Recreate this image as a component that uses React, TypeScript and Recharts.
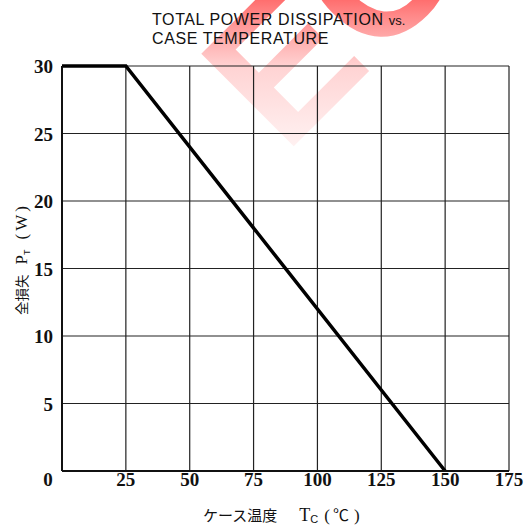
import React from "react";
import { CartesianGrid, Line, LineChart, XAxis, YAxis } from "recharts";

// derating curve: case temperature (°C) vs total power dissipation (W)
const caseTemp = [0, 25, 150];
const powerW = [30, 30, 0];
const xTicks = [0, 25, 50, 75, 100, 125, 150, 175];
const yTicks = [5, 10, 15, 20, 25, 30];

const data = caseTemp.map((t, i) => ({ t, p: powerW[i] }));

const tickFont = "'Liberation Serif', 'DejaVu Serif', serif";
const sans = "'Liberation Sans', Arial, sans-serif";
const jp = "'Noto Sans CJK JP', sans-serif";

function XTick({ x, y, payload }: any) {
  const dx = payload.value === 0 ? -14 : 0;
  return (
    <text x={x + dx} y={y + 7} textAnchor="middle" fontFamily={tickFont} fontSize={19} fontWeight={700} fill="#111">
      {payload.value}
    </text>
  );
}

function YTick({ x, y, payload }: any) {
  return (
    <text x={x - 1} y={y + 7} textAnchor="end" fontFamily={tickFont} fontSize={19} fontWeight={700} fill="#111">
      {payload.value}
    </text>
  );
}

export default function App() {
  return (
    <div style={{ position: "absolute", left: 0, top: 0, width: 526, height: 532, background: "#fff" }}>
      <svg width={526} height={532} style={{ position: "absolute", left: 0, top: 0 }}>
        <defs>
          <linearGradient
            id="wm"
            gradientUnits="userSpaceOnUse"
            x1={0}
            y1={0}
            x2={0}
            y2={150}
            gradientTransform="rotate(45 378 62)"
          >
            <stop offset="0%" stopColor="#ff3030" stopOpacity={0.7} />
            <stop offset="45%" stopColor="#ff5050" stopOpacity={0.25} />
            <stop offset="100%" stopColor="#ff6060" stopOpacity={0.08} />
          </linearGradient>
        </defs>
        <text
          x={378}
          y={62}
          transform="rotate(-45 378 62)"
          textAnchor="middle"
          fontFamily={sans}
          fontWeight={700}
          fontSize={190}
          fill="url(#wm)"
        >
          EC
        </text>
      </svg>
      <LineChart
        width={526}
        height={532}
        data={data}
        margin={{ top: 66, right: 17, bottom: 0, left: 0 }}
        style={{ position: "absolute", left: 0, top: 0 }}
      >
        <CartesianGrid stroke="#222" strokeWidth={1.2} />
        <XAxis
          dataKey="t"
          type="number"
          domain={[0, 175]}
          ticks={xTicks}
          height={61}
          tickLine={false}
          axisLine={{ stroke: "#111", strokeWidth: 2 }}
          tick={<XTick />}
          interval={0}
        />
        <YAxis
          type="number"
          domain={[0, 30]}
          ticks={yTicks}
          width={62}
          tickLine={false}
          axisLine={{ stroke: "#111", strokeWidth: 2 }}
          tick={<YTick />}
          interval={0}
        />
        <Line type="linear" dataKey="p" stroke="#000" strokeWidth={3.5} dot={false} isAnimationActive={false} />
        <text x={152} y={25} fontFamily={sans} fontSize={16} letterSpacing={0.6} fill="#111">
          TOTAL POWER DISSIPATION <tspan fontSize={13} letterSpacing={0}>vs.</tspan>
        </text>
        <text x={152} y={44} fontFamily={sans} fontSize={16} letterSpacing={0.6} fill="#111">
          CASE TEMPERATURE
        </text>
        <text x={203} y={521} fontSize={15} fill="#111" fontFamily={jp}>
          ケース温度
          <tspan dx={22} fontFamily={tickFont} fontSize={18}>T</tspan>
          <tspan fontFamily={sans} fontSize={11} dy={2}>C</tspan>
          <tspan dy={-2} dx={6} fontFamily={tickFont} fontSize={17}>(</tspan>
          <tspan dx={3} fontSize={16}>℃</tspan>
          <tspan dx={5} fontFamily={tickFont} fontSize={17}>)</tspan>
        </text>
        <text
          x={27}
          y={315}
          transform="rotate(-90 27 315)"
          fontSize={13.5}
          fill="#111"
          fontFamily={jp}
        >
          全損失
          <tspan dx={10} fontFamily={tickFont} fontSize={17}>P</tspan>
          <tspan fontFamily={sans} fontSize={9} dy={3}>T</tspan>
          <tspan dy={-3} dx={10} fontFamily={tickFont} fontSize={17}>(</tspan>
          <tspan dx={3} fontFamily={tickFont} fontSize={17}>W</tspan>
          <tspan dx={3} fontFamily={tickFont} fontSize={17}>)</tspan>
        </text>
      </LineChart>
    </div>
  );
}
